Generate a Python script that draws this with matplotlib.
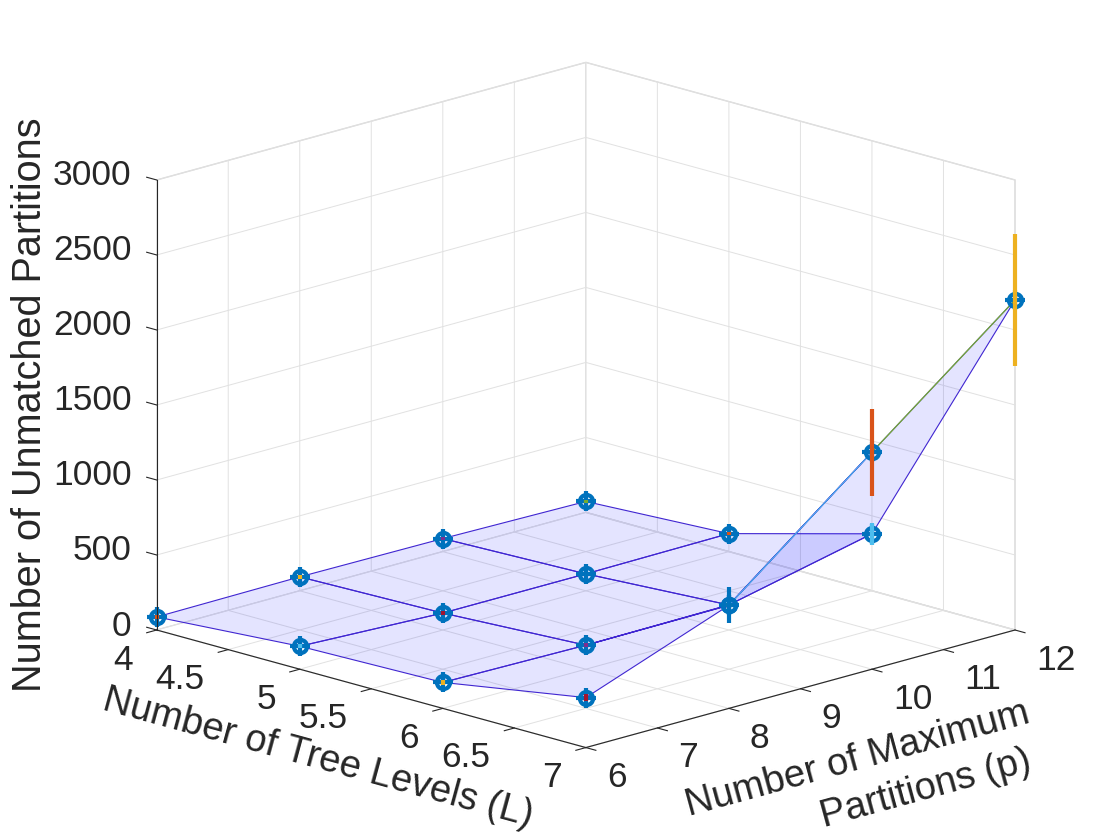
import numpy as np
import matplotlib
matplotlib.use('Agg')
import matplotlib.pyplot as plt
from mpl_toolkits.mplot3d import proj3d

plt.rcParams['font.family'] = ['Liberation Sans', 'DejaVu Sans']
plt.rcParams['grid.color'] = '#e1e1e1'
plt.rcParams['grid.linewidth'] = 0.7

# data: rows = tree levels (L), cols = max partitions (p)
tree_levels = [4, 5, 6, 7]
max_partitions = [6, 8, 10, 12]
unmatched = np.array([
    [87, 93, 87, 73],
    [153, 113, 113, 120],
    [173, 160, 167, 380],
    [333, 687, 1447, 2200],
])
unmatched_err = np.array([
    [12, 12, 12, 12],
    [12, 12, 12, 12],
    [14, 12, 12, 73],
    [25, 120, 290, 440],
])

l_ticks = [4, 4.5, 5, 5.5, 6, 6.5, 7]
l_ticklabels = ['4', '4.5', '5', '5.5', '6', '6.5', '7']
p_ticks = [6, 7, 8, 9, 10, 11, 12]
z_ticks = [0, 500, 1000, 1500, 2000, 2500, 3000]

matlab_colors = ['#0072BD', '#D95319', '#EDB120', '#7E2F8E',
                 '#77AC30', '#4DBEEE', '#A2142F']
ink = '#262626'

W, H = 1120, 840
fig = plt.figure(figsize=(W / 100, H / 100), dpi=100)
ax = fig.add_axes([0.1, 0.1, 0.8, 0.8], projection='3d', computed_zorder=False)
ax.set_proj_type('ortho')
ax.view_init(elev=15.9, azim=-45)
ax.set_box_aspect((1, 1, 0.771))
ax.set_xlim(4, 7)
ax.set_ylim(6, 12)
ax.set_zlim(0, 3000)
ax.set_xticks(l_ticks)
ax.set_yticks(p_ticks)
ax.set_zticks(z_ticks)
for axis in (ax.xaxis, ax.yaxis, ax.zaxis):
    axis.set_pane_color((1, 1, 1, 1))
    axis.pane.set_edgecolor('#d8d8d8')
    axis.line.set_color((0, 0, 0, 0))
    axis.set_ticklabels([])
    axis._axinfo['tick']['inward_factor'] = 0.0
    axis._axinfo['tick']['outward_factor'] = 0.0

# surface
LL, PP = np.meshgrid(tree_levels, max_partitions, indexing='ij')
ax.plot_surface(LL, PP, unmatched, color=(0, 0, 1, 0.105), shade=False,
                edgecolor=(0.25, 0.15, 0.82, 1), linewidth=0.8, zorder=1)

# extra coloured lines on the L=7 row
ax.plot([7, 7], max_partitions[1:3], unmatched[3, 1:3], color='#4DBEEE', lw=0.8, zorder=2)
ax.plot([7, 7], max_partitions[2:4], unmatched[3, 2:4], color='#77AC30', lw=0.9, zorder=2)

# markers
ax.plot(LL.ravel(), PP.ravel(), unmatched.ravel(), 'o', ms=9.5, mfc='none',
        mec='#0072BD', mew=3, zorder=3)
ax.plot(LL.ravel(), PP.ravel(), unmatched.ravel(), '+', ms=15, mew=3,
        color='#0072BD', zorder=3)

# error bars, colours cycle like matlab
k = 0
for i, L in enumerate(tree_levels):
    for j, p in enumerate(max_partitions):
        z = unmatched[i, j]
        e = unmatched_err[i, j]
        ax.plot([L, L], [p, p], [z - e, z + e], color=matlab_colors[(k + 1) % 7],
                lw=3, solid_capstyle='butt', zorder=4)
        k += 1

# axis lines and ticks
ax.plot([4, 7], [6, 6], [0, 0], color=ink, lw=0.8, zorder=5)
ax.plot([7, 7], [6, 12], [0, 0], color=ink, lw=0.8, zorder=5)
ax.plot([4, 4], [6, 6], [0, 3000], color=ink, lw=0.8, zorder=5)
for t in l_ticks:
    ax.plot([t, t], [6, 5.86], [0, 0], color=ink, lw=0.8, zorder=5)
for t in p_ticks:
    ax.plot([7, 7.07], [t, t], [0, 0], color=ink, lw=0.8, zorder=5)
for t in z_ticks:
    ax.plot([4, 3.93], [6, 6], [t, t], color=ink, lw=0.8, zorder=5)


def to_px(x, y, z):
    xs, ys, _ = proj3d.proj_transform(np.atleast_1d(x), np.atleast_1d(y),
                                      np.atleast_1d(z), ax.get_proj())
    return ax.transData.transform(np.column_stack([xs, ys]))[0]


# fit the axes box so the floor corners land where the reference has them
fig.canvas.draw()
p_left = to_px(4, 6, 0)
p_right = to_px(7, 12, 0)
t_left = np.array([156.7, H - 630.0])
t_right = np.array([1015.0, H - 630.0])
s = (t_right[0] - t_left[0]) / (p_right[0] - p_left[0])
bb = ax.get_position()
x0, y0, w, h = bb.x0 * W, bb.y0 * H, bb.width * W, bb.height * H
c = np.array([x0 + w / 2, y0 + h / 2])
c_new = t_left - s * (p_left - c)
ax.set_position([(c_new[0] - w * s / 2) / W, (c_new[1] - h * s / 2) / H,
                 w * s / W, h * s / H])
fig.canvas.draw()

# tick labels
fs_tick = 25.5
for t, lab in zip(l_ticks, l_ticklabels):
    px, py = to_px(t, 6, 0)
    fig.text((px - 24) / W, (py - 30) / H, lab, ha='right', va='center',
             fontsize=fs_tick, color=ink)
for t in p_ticks:
    px, py = to_px(7, t, 0)
    fig.text((px + 21) / W, (py - 30) / H, str(t), ha='left', va='center',
             fontsize=fs_tick, color=ink)
for t in z_ticks:
    px, py = to_px(4, 6, t)
    fig.text((px - 25) / W, (py + 4) / H, str(t), ha='right', va='center',
             fontsize=fs_tick, color=ink)

# axis labels
fs_lab = 28.5
fig.text(30 / W, 1 - 405 / H, 'Number of Unmatched Partitions', rotation=90,
         ha='center', va='center', rotation_mode='anchor', fontsize=fs_lab, color=ink)
fig.text(318 / W, 1 - 758 / H, 'Number of Tree Levels (L)', rotation=-15.3,
         ha='center', va='center', rotation_mode='anchor', fontsize=27.5, color=ink)
fig.text(858 / W, 1 - 760 / H, 'Number of Maximum', rotation=15.3,
         ha='center', va='center', rotation_mode='anchor', fontsize=27.5, color=ink)
fig.text(926 / W, 1 - 789 / H, 'Partitions (p)', rotation=15.3,
         ha='center', va='center', rotation_mode='anchor', fontsize=27.5, color=ink)

fig.savefig('out.png', dpi=100)
